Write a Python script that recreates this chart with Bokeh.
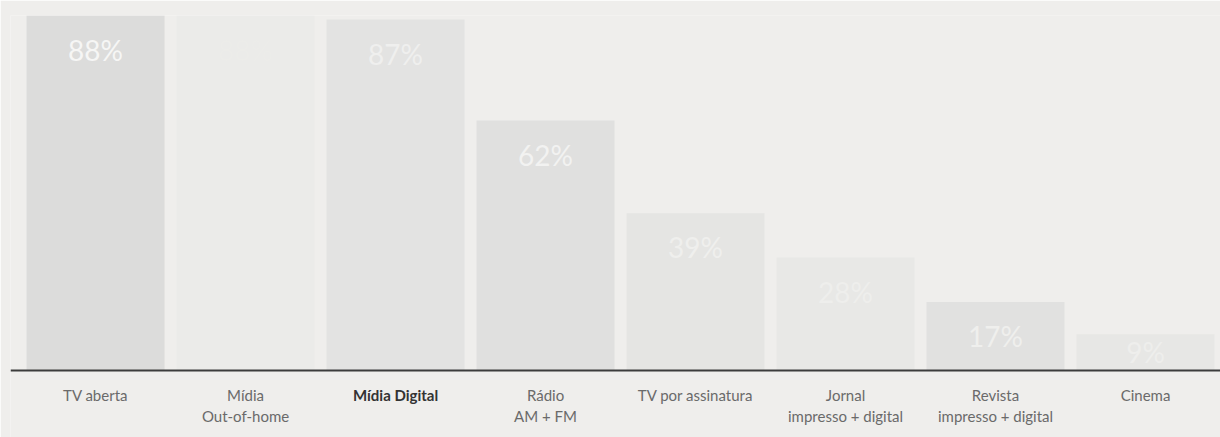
from bokeh.plotting import figure
from bokeh.models import ColumnDataSource, Range1d, LinearAxis, FixedTicker
from bokeh.core.properties import value
from bokeh.embed import file_html
from bokeh.resources import INLINE

# ---- data ----
categories = ["TV aberta", "Mídia\nOut-of-home", "Mídia Digital", "Rádio\nAM + FM",
              "TV por assinatura", "Jornal\nimpresso + digital",
              "Revista\nimpresso + digital", "Cinema"]
reach = [88, 88, 87, 62, 39, 28, 17, 9]
value_labels = ["88%", "88%", "87%", "62%", "39%", "28%", "17%", "9%"]
highlight = "Mídia Digital"

# ---- styles ----
bar_colors = ["#dcdcdb", "#ebebe9", "#e3e3e2", "#e0e0df", "#e5e5e3", "#e8e8e6", "#e1e1e0", "#e7e7e5"]
text_colors = ["#f6f6f5", "#ecece9", "#efefee", "#f2f2f1", "#efefed", "#eeeeec", "#efefed", "#eeeeec"]
bg = "#efeeec"
y_max = 88
y_min = -16.6   # room below the baseline for the category labels

# category slots: centre of slot i is i + 0.5
positions = [i + 0.5 for i in range(len(categories))]
label_y = [max(min(v, y_max) - 8.5, v / 2) for v in reach]

src = ColumnDataSource(dict(x=positions, cat=categories, reach=reach, lbl=value_labels,
                            ly=label_y, color=bar_colors, tcolor=text_colors))

p = figure(width=1220, height=437, output_backend="svg", toolbar_location=None,
           x_range=Range1d(-0.067, len(categories)),
           y_range=Range1d(y_min, y_max),
           x_axis_location=None, y_axis_location=None,
           min_border_top=15, min_border_left=10, min_border_right=0, min_border_bottom=0,
           background_fill_color=bg, border_fill_color=bg, outline_line_color=None)

p.vbar(x="x", top="reach", width=0.92, bottom=0, fill_color="color", line_color=None, source=src)
p.text(x="x", y="ly", text="lbl", text_align="center", text_baseline="middle",
       text_color="tcolor", text_font=value("Lato"), text_font_size="28px", source=src)

p.xgrid.grid_line_color = None
p.ygrid.grid_line_color = None


def make_axis(labels, font_style, color, line=True):
    ax = LinearAxis(ticker=FixedTicker(ticks=list(labels.keys())),
                    major_label_overrides=labels, fixed_location=0)
    ax.axis_line_color = "#3c3c3c" if line else None
    ax.axis_line_width = 2
    ax.major_tick_line_color = None
    ax.minor_tick_line_color = None
    ax.major_label_text_font = "Lato"
    ax.major_label_text_font_size = "15px"
    ax.major_label_text_font_style = font_style
    ax.major_label_text_color = color
    ax.major_label_standoff = 9
    return ax


normal_labels = {pos: cat for pos, cat in zip(positions, categories) if cat != highlight}
bold_labels = {pos: cat for pos, cat in zip(positions, categories) if cat == highlight}

p.add_layout(make_axis(normal_labels, "normal", "#6a6a6a"), "below")
p.add_layout(make_axis(bold_labels, "bold", "#333333", line=False), "below")

open("out.html", "w").write(file_html(p, INLINE))
